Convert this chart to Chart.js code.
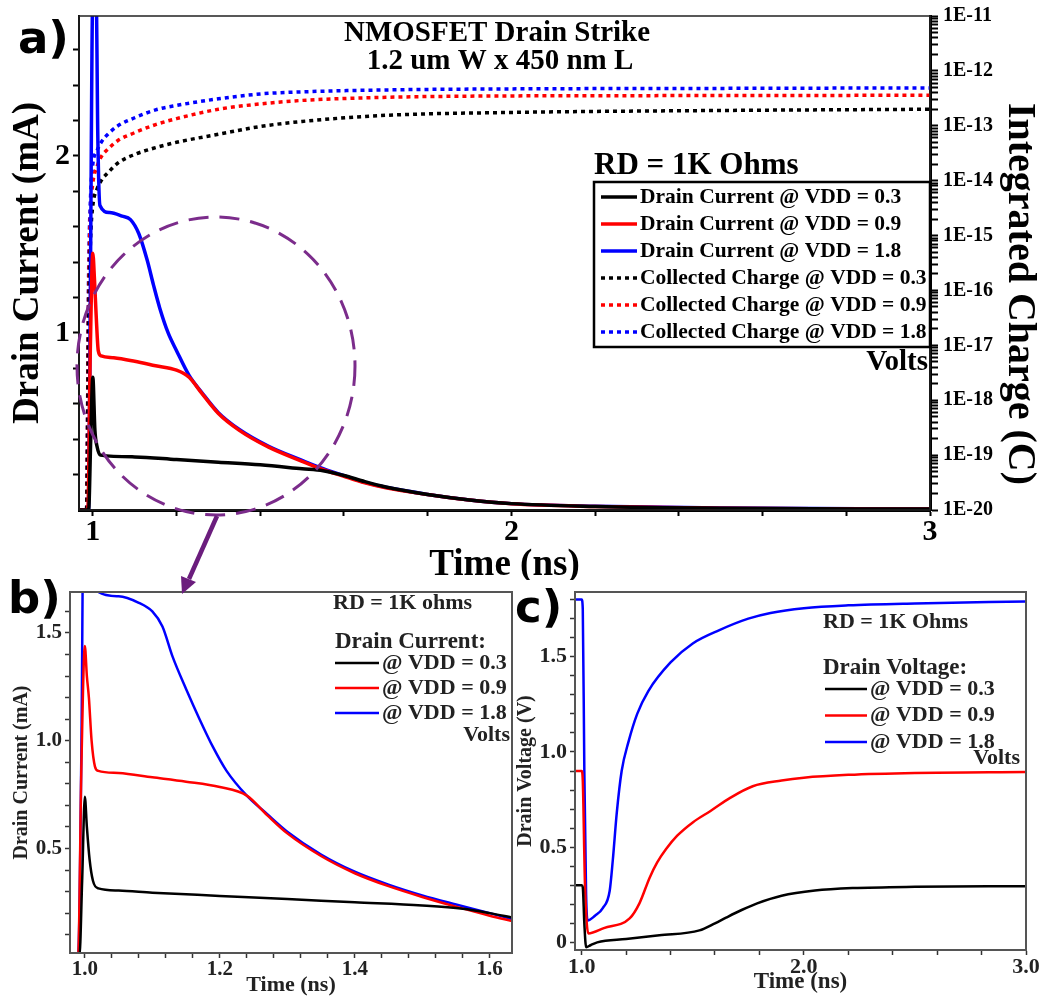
<!DOCTYPE html>
<html><head><meta charset="utf-8">
<script src="https://cdn.jsdelivr.net/npm/chart.js@4.4.1/dist/chart.umd.min.js"></script>
<style>
html,body{margin:0;padding:0;background:#fff;}
body{width:1045px;height:998px;position:relative;overflow:hidden;}
canvas{position:absolute;}
#ca{left:0;top:0;}
#cb{left:0;top:580px;}
#cc{left:512px;top:580px;}
.lab{position:absolute;font-family:'DejaVu Sans',sans-serif;font-weight:bold;font-size:45px;line-height:45px;color:#000;}
svg{position:absolute;left:0;top:0;pointer-events:none;}
</style></head><body>
<canvas id="cc" width="533" height="418"></canvas>
<canvas id="cb" width="520" height="418"></canvas>
<canvas id="ca" width="1045" height="580"></canvas>
<div class="lab" style="left:18px;top:15px;">a)</div>
<div class="lab" style="left:8px;top:575px;">b)</div>
<div class="lab" style="left:515px;top:584px;">c)</div>
<svg width="1045" height="998">
  <ellipse cx="216" cy="366" rx="139" ry="149" fill="none" stroke="#7b2c8b" stroke-width="3" stroke-dasharray="20 11"/>
  <line x1="217" y1="516" x2="189" y2="579" stroke="#6b1d7d" stroke-width="4.5"/>
  <polygon points="182,594 196,582 181,576" fill="#6b1d7d"/>
</svg>
<script>
// ===================== DATA =====================
// Panel a: drain current (mA) vs time (ns)
const A_T_BLACK = [0.967, 0.99, 0.995, 1.0, 1.005, 1.01, 1.018, 1.1, 1.2, 1.3, 1.4, 1.5, 1.55, 1.6, 1.65, 1.7, 1.8, 1.9, 2.0, 2.2, 2.5, 3.0];
const A_I_BLACK = [0, 0, 0.4, 0.75, 0.45, 0.36, 0.31, 0.30, 0.285, 0.27, 0.255, 0.233, 0.222, 0.195, 0.16, 0.13, 0.088, 0.057, 0.036, 0.02, 0.01, 0.005];
const A_T_RED = [0.967, 0.988, 0.994, 1.0, 1.004, 1.008, 1.013, 1.02, 1.05, 1.1, 1.15, 1.2, 1.23, 1.26, 1.3, 1.35, 1.42, 1.5, 1.54, 1.6, 1.65, 1.7, 1.8, 1.9, 2.0, 2.2, 2.5, 3.0];
const A_I_RED = [0, 0, 0.9, 1.45, 1.3, 1.1, 0.9, 0.87, 0.86, 0.84, 0.815, 0.79, 0.75, 0.66, 0.545, 0.45, 0.355, 0.275, 0.237, 0.19, 0.153, 0.125, 0.087, 0.056, 0.035, 0.02, 0.01, 0.005];
const A_T_BLUE = [0.967, 0.99, 0.994, 1.0, 1.008, 1.012, 1.017, 1.04, 1.07, 1.09, 1.11, 1.13, 1.145, 1.16, 1.18, 1.2, 1.23, 1.26, 1.3, 1.35, 1.42, 1.5, 1.54, 1.6, 1.65, 1.7, 1.8, 1.9, 2.0, 2.2, 2.5, 3.0];
const A_I_BLUE = [0, 0, 1.2, 2.9, 2.9, 2.1, 1.72, 1.68, 1.66, 1.64, 1.56, 1.41, 1.27, 1.14, 1.0, 0.9, 0.76, 0.665, 0.55, 0.455, 0.36, 0.28, 0.242, 0.194, 0.156, 0.128, 0.088, 0.057, 0.036, 0.021, 0.011, 0.006];
// Panel a: collected charge (C) vs time (ns)
const A_T_Q = [0.967, 0.985, 0.99, 0.995, 1.0, 1.01, 1.02, 1.04, 1.06, 1.1, 1.15, 1.2, 1.3, 1.4, 1.5, 1.7, 2.0, 2.5, 3.0];
const A_Q_BLACK = [1e-20, 1e-20, 3e-17, 1e-15, 3.5e-15, 7e-15, 1e-14, 1.5e-14, 2.1e-14, 3e-14, 4e-14, 5e-14, 7e-14, 9.7e-14, 1.2e-13, 1.55e-13, 1.75e-13, 1.9e-13, 2e-13];
const A_Q_RED = [1e-20, 1e-20, 1e-16, 3e-15, 9e-15, 1.8e-14, 2.7e-14, 4e-14, 5.4e-14, 7.5e-14, 1.05e-13, 1.35e-13, 2e-13, 2.5e-13, 2.9e-13, 3.3e-13, 3.5e-13, 3.55e-13, 3.6e-13];
const A_Q_BLUE = [1e-20, 1e-20, 2e-16, 6e-15, 2e-14, 3.5e-14, 5e-14, 7.5e-14, 1e-13, 1.4e-13, 1.95e-13, 2.35e-13, 3.1e-13, 3.8e-13, 4.15e-13, 4.5e-13, 4.7e-13, 4.8e-13, 4.9e-13];

// Panel b: drain current (mA) zoom
const B_T_BLACK = [0.978, 0.992, 0.996, 1.0, 1.003, 1.007, 1.012, 1.02, 1.05, 1.1, 1.2, 1.3, 1.4, 1.5, 1.56, 1.6, 1.633];
const B_I_BLACK = [0, 0, 0.35, 0.74, 0.6, 0.45, 0.35, 0.315, 0.305, 0.295, 0.28, 0.265, 0.25, 0.235, 0.22, 0.2, 0.18];
const B_T_RED = [0.978, 0.99, 0.995, 1.0, 1.003, 1.006, 1.01, 1.015, 1.02, 1.05, 1.1, 1.15, 1.2, 1.24, 1.27, 1.3, 1.35, 1.4, 1.45, 1.5, 1.55, 1.6, 1.633];
const B_I_RED = [0, 0, 0.9, 1.44, 1.3, 1.2, 1.0, 0.88, 0.86, 0.85, 0.83, 0.81, 0.785, 0.745, 0.655, 0.57, 0.465, 0.385, 0.325, 0.275, 0.23, 0.188, 0.163];
const B_T_BLUE = [0.978, 0.99, 0.995, 1.0, 1.01, 1.02, 1.05, 1.08, 1.1, 1.115, 1.13, 1.15, 1.17, 1.19, 1.21, 1.24, 1.27, 1.3, 1.35, 1.4, 1.45, 1.5, 1.55, 1.6, 1.633];
const B_I_BLUE = [0, 0, 1.0, 2.9, 2.0, 1.69, 1.67, 1.64, 1.6, 1.53, 1.39, 1.24, 1.1, 0.97, 0.86, 0.745, 0.66, 0.578, 0.472, 0.392, 0.332, 0.282, 0.24, 0.2, 0.172];

// Panel c: drain voltage (V)
const C_T_BLACK = [0.97, 1.0, 1.005, 1.012, 1.02, 1.04, 1.07, 1.2, 1.35, 1.53, 1.6, 1.65, 1.72, 1.79, 1.9, 2.05, 2.22, 2.5, 3.0];
const C_V_BLACK = [0.3, 0.3, 0.29, 0.1, -0.025, -0.015, 0.0, 0.018, 0.037, 0.063, 0.1, 0.13, 0.17, 0.205, 0.245, 0.272, 0.285, 0.292, 0.295];
const C_T_RED = [0.97, 1.0, 1.005, 1.015, 1.03, 1.1, 1.216, 1.26, 1.306, 1.34, 1.38, 1.43, 1.5, 1.58, 1.67, 1.77, 1.9, 2.0, 2.2, 2.5, 3.0];
const C_V_RED = [0.9, 0.9, 0.85, 0.3, 0.047, 0.075, 0.126, 0.205, 0.34, 0.42, 0.49, 0.56, 0.63, 0.69, 0.76, 0.82, 0.85, 0.865, 0.88, 0.89, 0.895];
const C_T_BLUE = [0.97, 1.0, 1.005, 1.012, 1.02, 1.027, 1.06, 1.095, 1.126, 1.14, 1.158, 1.18, 1.21, 1.25, 1.3, 1.4, 1.5, 1.62, 1.75, 1.85, 2.0, 2.2, 2.5, 3.0];
const C_V_BLUE = [1.8, 1.8, 1.75, 0.9, 0.25, 0.115, 0.14, 0.18, 0.27, 0.43, 0.68, 0.9, 1.05, 1.2, 1.32, 1.47, 1.57, 1.64, 1.7, 1.73, 1.755, 1.77, 1.78, 1.79];

const VDD = ['0.3', '0.9', '1.8'];
const COLORS = ['#000000', '#ff0000', '#0000ff'];

// Tick values and labels
const A_X_TICKS = [1, 1.2, 1.4, 1.6, 1.8, 2, 2.2, 2.4, 2.6, 2.8, 3];
const A_X_LABELS = ['1', '', '', '', '', '2', '', '', '', '', '3'];
const A_Y_TICKS = [0.2, 0.4, 0.6, 0.8, 1.0, 1.2, 1.4, 1.6, 1.8, 2.0, 2.2, 2.4, 2.6];
const A_Y_LABELS = ['', '', '', '', '1', '', '', '', '', '2', '', '', ''];
const A_Q_DECADE_LABELS = ['1E-20', '1E-19', '1E-18', '1E-17', '1E-16', '1E-15', '1E-14', '1E-13', '1E-12', '1E-11'];
const B_X_TICKS = [1.00, 1.04, 1.08, 1.12, 1.16, 1.20, 1.24, 1.28, 1.32, 1.36, 1.40, 1.44, 1.48, 1.52, 1.56, 1.60];
const B_X_LABELS = ['1.0', '', '', '', '', '1.2', '', '', '', '', '1.4', '', '', '', '', '1.6'];
const B_Y_TICKS = [0.1, 0.2, 0.3, 0.4, 0.5, 0.6, 0.7, 0.8, 0.9, 1.0, 1.1, 1.2, 1.3, 1.4, 1.5, 1.6];
const B_Y_LABELS = ['', '', '', '', '0.5', '', '', '', '', '1.0', '', '', '', '', '1.5', ''];
const C_X_TICKS = [1.0, 1.2, 1.4, 1.6, 1.8, 2.0, 2.2, 2.4, 2.6, 2.8, 3.0];
const C_X_LABELS = ['1.0', '', '', '', '', '2.0', '', '', '', '', '3.0'];
const C_Y_TICKS = [0, 0.1, 0.2, 0.3, 0.4, 0.5, 0.6, 0.7, 0.8, 0.9, 1.0, 1.1, 1.2, 1.3, 1.4, 1.5, 1.6, 1.7, 1.8];
const C_Y_LABELS = ['0', '', '', '', '', '0.5', '', '', '', '', '1.0', '', '', '', '', '1.5', '', '', ''];

// log ticks for charge axis (1..9 per decade)
const A_Q_TICKS = [], A_Q_LABELS = [];
A_Q_DECADE_LABELS.forEach((lab, d) => {
  const e = -20 + d;
  A_Q_TICKS.push(Number('1e' + e)); A_Q_LABELS.push(lab);
  if (d < A_Q_DECADE_LABELS.length - 1) {
    for (let s = 2; s <= 9; s++) { A_Q_TICKS.push(Number(s + 'e' + e)); A_Q_LABELS.push(''); }
  }
});

// ===================== HELPERS =====================
Chart.defaults.font.family = "'Liberation Serif','Times New Roman',serif";
Chart.defaults.font.weight = 'bold';
Chart.defaults.color = '#000';

function pts(xs, ys) { return xs.map((x, i) => ({ x: x, y: ys[i] })); }
function setTicks(values) { return function (scale) { scale.ticks = values.map(v => ({ value: v })); }; }
function fix(prop, size) {
  return function (s) { s[prop] = size; s.paddingTop = 0; s.paddingBottom = 0; s.paddingLeft = 0; s.paddingRight = 0; };
}

const panelText = {
  id: 'panelText',
  afterDraw(chart, args, o) {
    const ctx = chart.ctx;
    const ca = chart.chartArea;
    ctx.save();
    if (o.frame) {
      ctx.strokeStyle = o.frame.color; ctx.lineWidth = o.frame.width;
      ctx.strokeRect(ca.left, ca.top, ca.right - ca.left, ca.bottom - ca.top);
    }
    if (o.box) {
      ctx.fillStyle = '#fff';
      ctx.fillRect(o.box.x, o.box.y, o.box.w, o.box.h);
      ctx.strokeStyle = '#000'; ctx.lineWidth = o.box.lw;
      ctx.strokeRect(o.box.x, o.box.y, o.box.w, o.box.h);
    }
    ctx.textBaseline = 'middle';
    (o.texts || []).forEach(t => {
      ctx.save();
      ctx.font = 'bold ' + t.size + "px 'Liberation Serif', serif";
      ctx.fillStyle = t.color || '#000';
      ctx.textAlign = t.align || 'left';
      ctx.translate(t.x, t.y);
      if (t.rot) ctx.rotate(t.rot);
      ctx.fillText(t.text, 0, 0);
      ctx.restore();
    });
    (o.items || []).forEach(it => {
      const ds = chart.data.datasets[it.ds];
      ctx.beginPath();
      ctx.setLineDash(ds.borderDash || []);
      ctx.strokeStyle = ds.borderColor; ctx.lineWidth = it.lw;
      ctx.moveTo(it.x0, it.y); ctx.lineTo(it.x1, it.y); ctx.stroke();
      ctx.setLineDash([]);
      ctx.font = 'bold ' + it.size + "px 'Liberation Serif', serif";
      ctx.fillStyle = it.color || '#000';
      ctx.textAlign = 'left';
      ctx.fillText(it.text !== undefined ? it.text : ds.label, it.tx, it.y);
    });
    ctx.restore();
  }
};

const common = {
  responsive: false, animation: false, devicePixelRatio: 1, events: [],
  plugins: { legend: { display: false }, tooltip: { enabled: false } },
  elements: { point: { radius: 0 }, line: { cubicInterpolationMode: 'monotone', borderCapStyle: 'butt' } }
};

function axis(opts) {
  return Object.assign({
    type: 'linear',
    grid: { display: true, drawOnChartArea: false, drawTicks: true, tickLength: opts.tl, color: opts.col, tickWidth: opts.tw },
    border: { display: true, color: opts.col, width: opts.bw }
  }, opts.extra);
}

// ===================== CHART A =====================
const dsA = [];
[A_I_BLACK, A_I_RED, A_I_BLUE].forEach((ys, k) => {
  const xs = [A_T_BLACK, A_T_RED, A_T_BLUE][k];
  dsA.push({ label: 'Drain Current @ VDD = ' + VDD[k], data: pts(xs, ys), borderColor: COLORS[k], borderWidth: 3.5, yAxisID: 'y' });
});
[A_Q_BLACK, A_Q_RED, A_Q_BLUE].forEach((ys, k) => {
  dsA.push({ label: 'Collected Charge @ VDD = ' + VDD[k], data: pts(A_T_Q, ys), borderColor: COLORS[k], borderWidth: 3.5, borderDash: [4, 4], yAxisID: 'y2' });
});

new Chart(document.getElementById('ca'), {
  type: 'line',
  data: { datasets: dsA },
  plugins: [panelText],
  options: Object.assign({}, common, {
    layout: { padding: { top: 16, left: 0, right: 0, bottom: 0 } },
    scales: {
      x: axis({ tl: 6, col: '#000', tw: 2, bw: 3, extra: {
        min: 0.967, max: 3, afterBuildTicks: setTicks(A_X_TICKS), afterFit: fix('height', 70),
        ticks: { autoSkip: false, maxRotation: 0, padding: 1, font: { size: 30, lineHeight: 1 }, callback: (v, i) => A_X_LABELS[i] },
        title: { display: true, text: 'Time (ns)', font: { size: 37, lineHeight: 0.81 }, padding: 0 }
      } }),
      y: axis({ tl: 6, col: '#000', tw: 2, bw: 2, extra: {
        position: 'left', min: 0, max: 2.79, afterBuildTicks: setTicks(A_Y_TICKS), afterFit: fix('width', 79),
        ticks: { autoSkip: false, padding: 3, font: { size: 30, lineHeight: 1 }, callback: (v, i) => A_Y_LABELS[i] },
        title: { display: true, text: 'Drain Current (mA)', font: { size: 37, lineHeight: 1 }, padding: { top: 10, bottom: 0 } }
      } }),
      y2: axis({ tl: 8, col: '#000', tw: 2, bw: 3, extra: {
        type: 'logarithmic', position: 'right', min: 1e-20, max: 1e-11, afterBuildTicks: setTicks(A_Q_TICKS), afterFit: fix('width', 115),
        ticks: { autoSkip: false, padding: 5, font: { size: 20, lineHeight: 1 }, callback: (v, i) => A_Q_LABELS[i] },
        title: { display: false, text: 'Integrated Charge (C)' }
      } })
    },
    plugins: Object.assign({}, common.plugins, {
      panelText: {
        frame: { color: '#222', width: 1.5 },
        box: { x: 594, y: 182, w: 336, h: 165, lw: 2.5 },
        texts: [
          { text: 'NMOSFET Drain Strike', x: 497, y: 34, size: 29, align: 'center' },
          { text: '1.2 um W x 450 nm L', x: 500, y: 62, size: 29, align: 'center' },
          { text: 'RD = 1K Ohms', x: 594, y: 166, size: 31 },
          { text: 'Volts', x: 928, y: 363, size: 29, align: 'right' },
          { text: 'Integrated Charge (C)', x: 1019, y: 294, size: 40, align: 'center', rot: Math.PI / 2 }
        ],
        items: [0, 1, 2, 3, 4, 5].map(k => ({ ds: k, x0: 601, x1: 637, tx: 640, y: 197 + k * 27, lw: 3.5, size: 21.5 }))
      }
    })
  })
});

// ===================== CHART B =====================
const dsB = [[B_T_BLACK, B_I_BLACK], [B_T_RED, B_I_RED], [B_T_BLUE, B_I_BLUE]].map((p, k) => ({
  label: '@ VDD = ' + VDD[k], data: pts(p[0], p[1]), borderColor: COLORS[k], borderWidth: 2.5
}));
new Chart(document.getElementById('cb'), {
  type: 'line',
  data: { datasets: dsB },
  plugins: [panelText],
  options: Object.assign({}, common, {
    layout: { padding: { top: 12, left: 0, right: 8, bottom: 0 } },
    scales: {
      x: axis({ tl: 5, col: '#333', tw: 1.5, bw: 2, extra: {
        min: 0.978, max: 1.633, afterBuildTicks: setTicks(B_X_TICKS), afterFit: fix('height', 45),
        ticks: { autoSkip: false, maxRotation: 0, padding: 1, color: '#222', font: { size: 21, lineHeight: 1 }, callback: (v, i) => B_X_LABELS[i] },
        title: { display: true, text: 'Time (ns)', color: '#222', font: { size: 22, lineHeight: 1 }, padding: { top: 0, bottom: 2 } }
      } }),
      y: axis({ tl: 5, col: '#333', tw: 1.5, bw: 2, extra: {
        position: 'left', min: 0.015, max: 1.69, afterBuildTicks: setTicks(B_Y_TICKS), afterFit: fix('width', 70),
        ticks: { autoSkip: false, padding: 3, color: '#222', font: { size: 21, lineHeight: 1 }, callback: (v, i) => B_Y_LABELS[i] },
        title: { display: true, text: 'Drain Current (mA)', color: '#222', font: { size: 20, lineHeight: 1 }, padding: { top: 12, bottom: 0 } }
      } })
    },
    plugins: Object.assign({}, common.plugins, {
      panelText: {
        frame: { color: '#555', width: 2 },
        texts: [
          { text: 'RD = 1K ohms', x: 333, y: 23, size: 22, color: '#222' },
          { text: 'Drain Current:', x: 335, y: 62, size: 23, color: '#222' },
          { text: 'Volts', x: 510, y: 155, size: 22, align: 'right', color: '#222' }
        ],
        items: [0, 1, 2].map(k => ({ ds: k, x0: 335, x1: 379, tx: 382, y: 83 + k * 25, lw: 2.5, size: 22, color: '#222' }))
      }
    })
  })
});

// ===================== CHART C =====================
const dsC = [[C_T_BLACK, C_V_BLACK], [C_T_RED, C_V_RED], [C_T_BLUE, C_V_BLUE]].map((p, k) => ({
  label: '@ VDD = ' + VDD[k], data: pts(p[0], p[1]), borderColor: COLORS[k], borderWidth: 2.5
}));
new Chart(document.getElementById('cc'), {
  type: 'line',
  data: { datasets: dsC },
  plugins: [panelText],
  options: Object.assign({}, common, {
    layout: { padding: { top: 12, left: 0, right: 19, bottom: 0 } },
    scales: {
      x: axis({ tl: 5, col: '#333', tw: 1.5, bw: 2, extra: {
        min: 0.97, max: 3.0, afterBuildTicks: setTicks(C_X_TICKS), afterFit: fix('height', 48),
        ticks: { autoSkip: false, maxRotation: 0, padding: 1, color: '#222', font: { size: 22, lineHeight: 1 }, callback: (v, i) => C_X_LABELS[i] },
        title: { display: true, text: 'Time (ns)', color: '#222', font: { size: 23, lineHeight: 1 }, padding: { top: 0, bottom: 4 } }
      } }),
      y: axis({ tl: 5, col: '#333', tw: 1.5, bw: 2, extra: {
        position: 'left', min: -0.04, max: 1.84, afterBuildTicks: setTicks(C_Y_TICKS), afterFit: fix('width', 63),
        ticks: { autoSkip: false, padding: 3, color: '#222', font: { size: 22, lineHeight: 1 }, callback: (v, i) => C_Y_LABELS[i] },
        title: { display: true, text: 'Drain Voltage (V)', color: '#222', font: { size: 20, lineHeight: 1 }, padding: { top: 4, bottom: 0 } }
      } })
    },
    plugins: Object.assign({}, common.plugins, {
      panelText: {
        frame: { color: '#555', width: 2 },
        texts: [
          { text: 'RD = 1K Ohms', x: 311, y: 42, size: 22, color: '#222' },
          { text: 'Drain Voltage:', x: 311, y: 88, size: 23, color: '#222' },
          { text: 'Volts', x: 508, y: 178, size: 22, align: 'right', color: '#222' }
        ],
        items: [0, 1, 2].map(k => ({ ds: k, x0: 313, x1: 355, tx: 358, y: 109 + k * 26.5, lw: 2.5, size: 22, color: '#222' }))
      }
    })
  })
});
</script>
</body></html>
